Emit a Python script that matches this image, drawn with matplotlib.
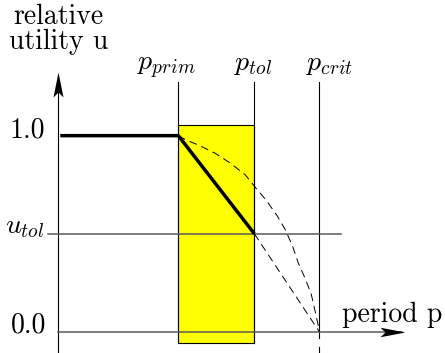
import matplotlib; matplotlib.use("Agg")
import matplotlib.pyplot as plt
from matplotlib.path import Path

plt.rcParams.update({"mathtext.fontset": "cm", "font.size": 20})

# period positions (arbitrary units) and utility levels
P_PRIM, P_TOL, P_CRIT = 1.20, 1.96, 2.61
U_TOL = 0.50
p_labels = [r"$p_{prim}$", r"$p_{tol}$", r"$p_{crit}$"]
label_x = [1.08, 1.95, 2.71]

# bold utility curve
util_p = [0.02, P_PRIM, P_TOL]
util_u = [1.0, 1.0, U_TOL]
# dashed alternative curves
alt1_p = [1.20, 1.27, 1.41, 1.57, 1.72, 1.87, 1.98, 2.08, 2.19, 2.27, 2.34, 2.40, 2.47, 2.53, 2.57, 2.60, 2.61]
alt1_u = [1.00, 0.98, 0.95, 0.91, 0.86, 0.80, 0.73, 0.67, 0.59, 0.52, 0.44, 0.35, 0.27, 0.19, 0.10, 0.03, 0.00]
alt2_p = [P_TOL, P_CRIT]
alt2_u = [U_TOL, 0.0]

fig = plt.figure(figsize=(4.45, 3.53), dpi=100)
ax = fig.add_axes([0, 0, 1, 1])
ax.set_xlim(-0.583, 3.867); ax.set_ylim(-0.1087, 1.692); ax.axis("off")

# tolerance band
ax.axvspan(P_PRIM, P_TOL, ymin=0.0288, ymax=0.6467, fc="yellow", ec="black", lw=0.8, zorder=1)

GREY = "#5a5a5a"
# axes
ax.plot([0, 0], [-0.11, 1.30], color="black", lw=0.8, zorder=3)
ax.plot([0, 3.44], [0, 0], color=GREY, lw=1.1, zorder=3)
ax.plot([-0.106, 2.827], [U_TOL, U_TOL], color=GREY, lw=1.1, zorder=3)
head_up = Path([(0, 0), (-0.2, -1), (0, -0.8), (0.2, -1), (0, 0)],
               [Path.MOVETO, Path.LINETO, Path.LINETO, Path.LINETO, Path.CLOSEPOLY])
head_right = Path([(0, 0), (-1, 0.19), (-0.8, 0), (-1, -0.19), (0, 0)],
                  [Path.MOVETO, Path.LINETO, Path.LINETO, Path.LINETO, Path.CLOSEPOLY])
ax.plot([0], [1.327], marker=head_up, ms=36, color="black", mew=0, zorder=4)
ax.plot([3.467], [0], marker=head_right, ms=36, color="black", mew=0, zorder=4)

# period markers
for p in (P_PRIM, P_TOL):
    ax.plot([p, p], [-0.056, 1.274], color="black", lw=0.8, zorder=2)
ax.plot([P_CRIT, P_CRIT], [-0.03, 1.274], color="black", lw=0.8, zorder=2)
ax.plot([P_CRIT, P_CRIT], [-0.078, -0.11], color="black", lw=0.8, zorder=2)

# curves
ax.plot(alt1_p, alt1_u, color="black", lw=0.7, ls=(0, (8, 5)), zorder=3)
ax.plot(alt2_p, alt2_u, color="black", lw=0.7, ls=(0, (8, 5)), zorder=3)
ax.plot(util_p, util_u, color="black", lw=2.5, solid_capstyle="butt", zorder=5)

# text
ax.text(0, 1.442, "relative\nutility u", family="cmr10", ha="center", va="baseline",
        multialignment="center", linespacing=0.93)
for x, t in zip(label_x, p_labels):
    ax.text(x, 1.334, t, ha="center", va="baseline")
ax.text(-0.133, 0.993, "1.0", family="cmr10", ha="right", va="baseline")
ax.text(-0.116, -0.005, "0.0", family="cmr10", ha="right", va="baseline")
ax.text(-0.143, 0.502, r"$u_{tol}$", ha="right", va="baseline")
ax.text(2.834, 0.051, "period p", family="cmr10", ha="left", va="baseline")

fig.savefig("out.png", dpi=100)
